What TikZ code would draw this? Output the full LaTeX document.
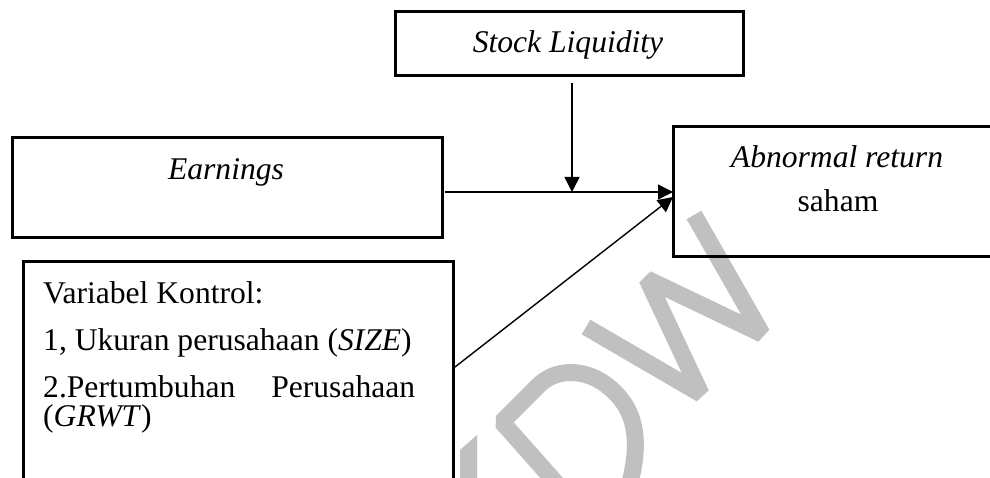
\documentclass[tikz,border=0pt]{standalone}
\usepackage{fontspec}
\setmainfont{Liberation Serif}
\usetikzlibrary{arrows.meta,calc}
\definecolor{wmgray}{RGB}{192,192,192}
\tikzset{
  box/.style={draw=black, line width=3pt, rectangle, inner sep=0pt, outer sep=0pt},
  lbl/.style={anchor=base, inner sep=0pt, font=\fontsize{31.6}{36}\selectfont},
  lbll/.style={anchor=base west, inner sep=0pt, font=\fontsize{31.6}{36}\selectfont},
  conn/.style={draw=black, line width=1.4pt, -{Triangle[length=15pt,width=15pt]}},
  wm/.style={draw=wmgray, line width=17pt, line join=bevel},
}
\begin{document}
\begin{tikzpicture}[x=1pt,y=-1pt]
\useasboundingbox (0,0) rectangle (990,478);
\clip (0,0) rectangle (990,478);
% watermark
\draw[wm] (694,215) -- (762,334) -- (647,279) -- (701,394) -- (586,327);
\draw[wm] (557,484) -- (502,422) -- (540,384) .. controls (560,366) and (595,368) .. (620,398) .. controls (640,422) and (638,455) .. (628,490);
\fill[wmgray] (460,450) -- (477,435) -- (477,480) -- (460,480) -- cycle;
% boxes
\node[box, minimum width=348pt, minimum height=64pt] (sl) at (569,44) {};
\node[box, minimum width=430pt, minimum height=100pt] (earn) at (227,188) {};
\node[box, minimum width=340pt, minimum height=130pt] (abn) at (843,192) {};
\node[box, minimum width=430pt, minimum height=240pt] (var) at (238,382) {};
% texts
\node[lbl] (tsl) at (568,53) {\itshape Stock Liquidity};
\node[lbl] (tearn) at (226,180) {\itshape Earnings};
\node[lbl] (tabn1) at (837,168) {\itshape Abnormal return};
\node[lbl] (tabn2) at (838,212) {saham};
\node[lbll] (tv1) at (43,303) {Variabel Kontrol:};
\node[lbll] (tv2) at (43,350) {1, Ukuran perusahaan (\textit{SIZE})};
\node[lbll] (tv3) at (43,397) {\makebox[372pt]{2.Pertumbuhan\hfill Perusahaan}};
\node[lbll] (tv4) at (43,426) {(\textit{GRWT})};
% connectors
\coordinate (j) at (572,192);
\draw[conn] ($(earn.east |- abn.west)+(3,0)$) -- (abn.west);
\draw[conn] ($(sl.south -| j)+(0,7)$) -- (j);
\draw[conn] ($(var.east)+(2,-15)$) -- ($(abn.west)+(0,5)$);
\end{tikzpicture}
\end{document}
